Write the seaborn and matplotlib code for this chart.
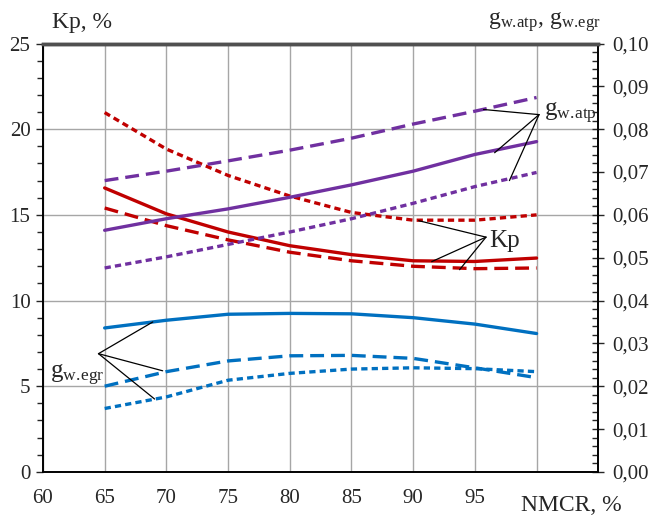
import numpy as np
import pandas as pd
import matplotlib
matplotlib.use('Agg')
import matplotlib.pyplot as plt
from matplotlib.ticker import FuncFormatter, MultipleLocator
import seaborn as sns

# %% data
nmcr = [65, 70, 75, 80, 85, 90, 95, 100]

kp_solid = [16.57, 15.06, 14.0, 13.2, 12.68, 12.32, 12.28, 12.48]
kp_dash = [15.4, 14.37, 13.54, 12.82, 12.32, 12.0, 11.86, 11.9]
kp_dot = [20.97, 18.84, 17.3, 16.1, 15.14, 14.69, 14.69, 15.0]

g_atp_solid = [0.0564, 0.0591, 0.0614, 0.0641, 0.0670, 0.0702, 0.0741, 0.0771]
g_atp_dash = [0.0680, 0.0702, 0.0726, 0.0751, 0.0779, 0.0812, 0.0842, 0.0874]
g_atp_dot = [0.0476, 0.0502, 0.0531, 0.0560, 0.0591, 0.0627, 0.0666, 0.0699]

g_egr_solid = [0.0336, 0.0354, 0.0368, 0.0370, 0.0369, 0.0360, 0.0345, 0.0323]
g_egr_dash = [0.0200, 0.0234, 0.0259, 0.0271, 0.0272, 0.0265, 0.0243, 0.0220]
g_egr_dot = [0.0148, 0.0175, 0.0214, 0.0230, 0.0240, 0.0243, 0.0241, 0.0234]

x_ticks = [60, 65, 70, 75, 80, 85, 90, 95, 100]
x_labels = ['60', '65', '70', '75', '80', '85', '90', '95', '']

RED = '#C00000'
PURPLE = '#7030A0'
BLUE = '#0070C0'

# %%
sns.set_style('white')
plt.rcParams['font.family'] = ['Liberation Serif', 'DejaVu Serif']
plt.rcParams['mathtext.fontset'] = 'custom'
plt.rcParams['mathtext.rm'] = 'Liberation Serif'
plt.rcParams['lines.scale_dashes'] = False

LONG = (0, (10, 5))
SHORT = (0, (4.5, 3))
LW = 2.4

G_ATP = r'g$\mathregular{_{w.\!atp}}$'
G_EGR = r'g$\mathregular{_{w.\!egr}}$'


def comma(fmt):
    return FuncFormatter(lambda v, p: fmt.format(v).replace('.', ','))


def main():
    fig = plt.figure(figsize=(6.51, 5.18), dpi=100)
    ax = fig.add_axes([0.066, 0.089, 0.853, 0.827])
    ax2 = ax.twinx()

    for vals, ls in [(kp_solid, '-'), (kp_dash, LONG), (kp_dot, SHORT)]:
        sns.lineplot(x=nmcr, y=vals, ax=ax, color=RED, lw=LW, linestyle=ls)
    for vals, ls in [(g_atp_solid, '-'), (g_atp_dash, LONG), (g_atp_dot, SHORT)]:
        sns.lineplot(x=nmcr, y=vals, ax=ax2, color=PURPLE, lw=LW, linestyle=ls)
    for vals, ls in [(g_egr_solid, '-'), (g_egr_dash, LONG), (g_egr_dot, SHORT)]:
        sns.lineplot(x=nmcr, y=vals, ax=ax2, color=BLUE, lw=LW, linestyle=ls)

    ax.set_xlim(60, 105)
    ax.set_ylim(0, 25)
    ax2.set_ylim(0, 0.10)
    ax.set_xlabel('')
    ax.set_ylabel('')
    ax2.set_ylabel('')

    ax.set_xticks(x_ticks)
    ax.set_xticklabels(x_labels)
    ax.xaxis.set_minor_locator(MultipleLocator(1))
    ax.yaxis.set_major_locator(MultipleLocator(5))
    ax.yaxis.set_minor_locator(MultipleLocator(1))
    ax2.yaxis.set_major_locator(MultipleLocator(0.01))
    ax2.yaxis.set_minor_locator(MultipleLocator(0.002))
    ax2.yaxis.set_major_formatter(comma('{:.2f}'))

    ax.grid(True, which='major', color='#A6A6A6', lw=1.0)
    ax.set_axisbelow(True)

    ax.tick_params(axis='x', which='major', direction='inout', length=8, width=1,
                   labelsize=15, pad=8, top=False)
    ax.tick_params(axis='x', which='minor', direction='in', length=5, width=1, top=False)
    ax.tick_params(axis='y', which='major', direction='out', length=5, width=1,
                   labelsize=15, pad=4)
    ax.tick_params(axis='y', which='minor', direction='out', length=4, width=1)
    ax2.tick_params(axis='y', which='major', direction='inout', length=8, width=1,
                    labelsize=15, pad=6)
    ax2.tick_params(axis='y', which='minor', direction='in', length=4, width=1)

    for a in (ax, ax2):
        for s in ['left', 'bottom', 'right']:
            a.spines[s].set_color('black')
            a.spines[s].set_linewidth(1.2)
        a.spines['top'].set_color('#505050')
        a.spines['top'].set_linewidth(2.5)

    line_kw = dict(arrowstyle='-', color='black', lw=0.9, shrinkA=0, shrinkB=0)

    # Kp callouts
    for tx, ty in [(90.45, 14.66), (91.5, 12.27), (93.76, 11.8)]:
        ax.annotate('', xy=(tx, ty), xytext=(95.9, 13.7), arrowprops=line_kw)
    ax.text(96.2, 13.5, 'Kp', fontsize=18, va='center', ha='left')

    # g callouts
    for tx, ty in [(95.7, 0.0846), (96.6, 0.0745), (97.8, 0.0680)]:
        ax2.annotate('', xy=(tx, ty), xytext=(100.2, 0.0834), arrowprops=line_kw)
    ax2.text(100.6, 0.0837, G_ATP, fontsize=18, va='center', ha='left')
    for tx, ty in [(68.9, 0.0350), (69.7, 0.0236), (69.05, 0.0170)]:
        ax2.annotate('', xy=(tx, ty), xytext=(64.5, 0.0276), arrowprops=line_kw)
    ax2.text(60.6, 0.0226, G_EGR, fontsize=18, va='center', ha='left')

    fig.text(0.080, 0.957, 'Kp, %', fontsize=17, va='center', ha='left')
    fig.text(0.923, 0.957, G_ATP + ', ' + G_EGR, fontsize=17, va='center', ha='right')
    fig.text(0.955, 0.025, 'NMCR, %', fontsize=17, va='center', ha='right')

    plt.savefig('out.png', dpi=100)


if __name__ == '__main__':
    main()
